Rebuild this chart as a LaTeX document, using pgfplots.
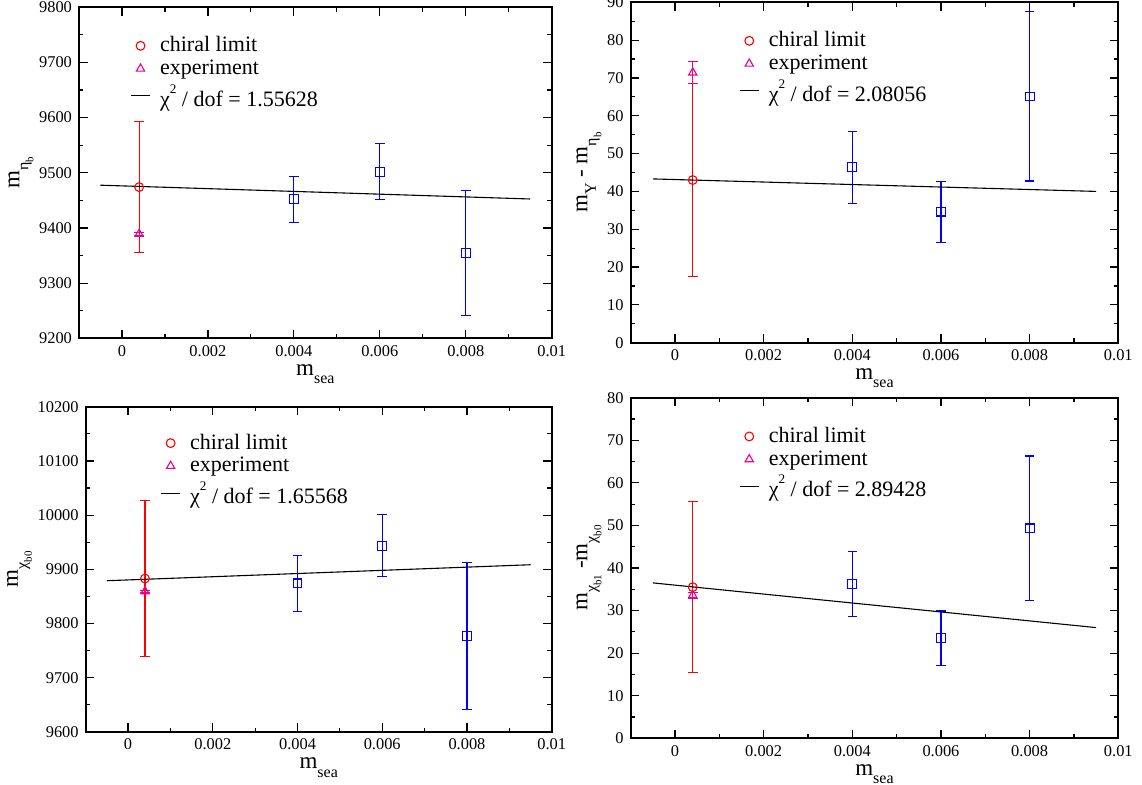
\documentclass[border=0pt]{standalone}
\usepackage{fontspec}
\setmainfont{Liberation Serif}
\usepackage{pgfplots}
\pgfplotsset{compat=1.18}

\newcommand{\lsub}[1]{\raisebox{-4.2pt}{\fontsize{8}{9}\selectfont #1}}
\newcommand{\msub}[2]{\raisebox{-4.5pt}{\fontsize{8}{9}\selectfont #1\raisebox{-2.5pt}{\fontsize{5.5}{6}\selectfont #2}}}
\newcommand{\chirow}[1]{\rule{0pt}{11.8pt}χ\raisebox{6.4pt}{\fontsize{6.6}{7}\selectfont 2} / dof = #1}

\pgfplotsset{
 mystyle/.style={
  scale only axis,
  anchor=south west,
  xmin=-0.001, xmax=0.01,
  xtick={0,0.002,0.004,0.006,0.008,0.01},
  xticklabels={0,0.002,0.004,0.006,0.008,0.01},
  minor x tick num=1, minor y tick num=1,
  scaled ticks=false,
  /pgf/number format/1000 sep={},
  /pgf/number format/assume math mode=true,
  tick label style={font=\fontsize{8.2}{9}\selectfont},
  label style={font=\fontsize{11.5}{13}\selectfont},
  xlabel={m\lsub{sea}},
  xlabel style={yshift=3pt},
  ylabel style={yshift=-4pt},
  axis line style={line width=0.9pt},
  every tick/.style={black, line width=0.6pt},
  major tick length=4.35pt, minor tick length=2.2pt,
  tick align=inside,
  legend style={draw=none, fill=none, inner sep=0pt, outer sep=0pt, row sep=2.5pt, column sep=4.75pt,
    font=\fontsize{11}{13}\selectfont, nodes={inner sep=0pt},
    at={(axis description cs:0,1)}, anchor=north west},
  legend cell align=left,
 },
 markleg/.style={legend image code/.code={\path (0pt,0pt) (9.5pt,0pt); \draw[mark repeat=2,mark phase=2,##1] plot coordinates {(0pt,0pt)(4.75pt,0pt)(9.5pt,0pt)};}},
 lineleg/.style={legend image code/.code={\draw[##1] (0pt,0pt) -- (9.5pt,0pt);}},
 eb/.style={error bars/y dir=both, error bars/y explicit,
   error bars/error bar style={draw=#1, line width=0.55pt},
   error bars/error mark options={rotate=90, draw=#1, mark size=2.4pt, line width=0.55pt}},
 sq/.style={blue, only marks, mark=square, mark size=2.2pt, line width=0.55pt, mark options={line width=0.55pt}, eb=blue},
 ci/.style={red, only marks, mark=o, mark size=2.2pt, line width=0.55pt, mark options={line width=0.55pt}, markleg, eb=red},
 tr/.style={magenta, only marks, mark=triangle, mark size=2.4pt, line width=0.55pt, mark options={line width=0.55pt}, markleg, eb=magenta},
 fit/.style={black, line width=0.55pt, no marks, lineleg},
}

\begin{document}
\begin{tikzpicture}
\useasboundingbox (0,0) rectangle (571pt,392.5pt);

% top left
\begin{axis}[mystyle, at={(39.5pt,223.35pt)}, width=236.35pt, height=165.5pt,
  ymin=9200, ymax=9800, ytick={9200,9300,9400,9500,9600,9700,9800},
  ylabel={m\msub{η}{b}},
  legend style={xshift=25.75pt, yshift=-14.7pt}]
\addplot[sq, forget plot] coordinates {(0.004,9452) +- (0,42) (0.006,9502) +- (0,51) (0.008,9355) +- (0,113)};
\addplot[ci] coordinates {(0.0004,9474) +- (0,119)};
\addplot[tr] coordinates {(0.0004,9389) +- (0,3)};
\addplot[fit] coordinates {(-0.0005,9477.5) (0.0095,9452.5)};
\legend{chiral limit, experiment, \chirow{1.55628}}
\end{axis}

% top right
\begin{axis}[mystyle, at={(315.35pt,221.15pt)}, width=243.8pt, height=170.2pt,
  ymin=0, ymax=90, ytick={0,10,20,30,40,50,60,70,80,90},
  ylabel={m\lsub{Υ} - m\msub{η}{b}},
  legend style={xshift=54.25pt, yshift=-14.7pt}]
\addplot[sq, forget plot] coordinates {(0.004,46.4) +- (0,9.5) (0.006,34.65) +- (0,8.05) (0.008,65.1) +- (0,22.35)};
\addplot[ci] coordinates {(0.0004,43.0) +- (0,25.6)};
\addplot[tr] coordinates {(0.0004,71.4) +- (0,2.9)};
\addplot[fit] coordinates {(-0.0005,43.3) (0.0095,40.0)};
\legend{chiral limit, experiment, \chirow{2.08056}}
\end{axis}

% bottom left
\begin{axis}[mystyle, at={(42.85pt,26.5pt)}, width=233pt, height=162.65pt,
  ymin=9600, ymax=10200, ytick={9600,9700,9800,9900,10000,10100,10200},
  ylabel={m\msub{χ}{b0}},
  legend style={xshift=37.45pt, yshift=-13.65pt}]
\addplot[sq, forget plot] coordinates {(0.004,9874) +- (0,52) (0.006,9943.5) +- (0,57) (0.008,9777) +- (0,135)};
\addplot[ci] coordinates {(0.0004,9883) +- (0,144)};
\addplot[tr] coordinates {(0.0004,9859.4) +- (0,1.5)};
\addplot[fit] coordinates {(-0.0005,9879) (0.0095,9908.5)};
\legend{chiral limit, experiment, \chirow{1.65568}}
\end{axis}

% bottom right
\begin{axis}[mystyle, at={(315.35pt,23.35pt)}, width=243.8pt, height=170.3pt,
  ymin=0, ymax=80, ytick={0,10,20,30,40,50,60,70,80},
  ylabel={m\msub{χ}{b1} -m\msub{χ}{b0}},
  legend style={xshift=54.25pt, yshift=-14.8pt}]
\addplot[sq, forget plot] coordinates {(0.004,36.25) +- (0,7.7) (0.006,23.5) +- (0,6.4) (0.008,49.3) +- (0,17)};
\addplot[ci] coordinates {(0.0004,35.5) +- (0,20.1)};
\addplot[tr] coordinates {(0.0004,33.6) +- (0,0.7)};
\addplot[fit] coordinates {(-0.0005,36.5) (0.0095,26.0)};
\legend{chiral limit, experiment, \chirow{2.89428}}
\end{axis}
\end{tikzpicture}
\end{document}
